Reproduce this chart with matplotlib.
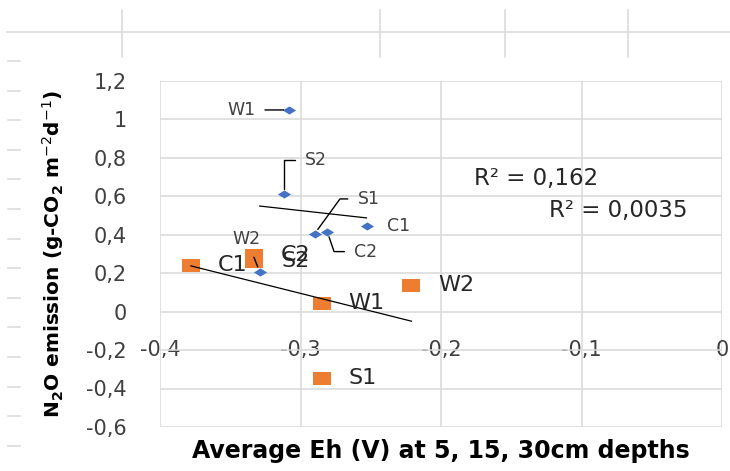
import numpy as np
import matplotlib.pyplot as plt
from matplotlib.lines import Line2D

# diamond series (blue)
blue_names = ['W1', 'S2', 'S1', 'C2', 'C1', 'W2']
blue_eh = [-0.308, -0.312, -0.290, -0.281, -0.253, -0.329]
blue_n2o = [1.047, 0.61, 0.403, 0.415, 0.444, 0.205]

# square series (orange)
orange_names = ['C1', 'C2', 'S2', 'W1', 'W2', 'S1']
orange_eh = [-0.378, -0.333, -0.333, -0.285, -0.221, -0.285]
orange_n2o = [0.239, 0.296, 0.26, 0.044, 0.138, -0.348]

r2_labels = ['R² = 0,162', 'R² = 0,0035']

x_ticks = [-0.4, -0.3, -0.2, -0.1, 0.0]
x_tick_labels = ['-0,4', '-0,3', '-0,2', '-0,1', '0']
y_ticks = [1.2, 1.0, 0.8, 0.6, 0.4, 0.2, 0.0, -0.2, -0.4, -0.6]
y_tick_labels = ['1,2', '1', '0,8', '0,6', '0,4', '0,2', '0', '-0,2', '-0,4', '-0,6']

BLUE = '#4472C4'
ORANGE = '#ED7D31'
GRID = '#d9d9d9'

# label placement for the blue points (offset in pixels, alignment, leader style)
blue_layout = {
    'W1': ((-34, 0), 'right', 'arc3'),
    'S2': ((21, 34), 'left', 'angle,angleA=0,angleB=90,rad=0'),
    'S1': ((43, 35), 'left', 'angle,angleA=0,angleB=54,rad=0'),
    'C2': ((27, -20), 'left', 'angle,angleA=0,angleB=109,rad=0'),
    'C1': ((20, 0), 'left', None),
    'W2': ((-13, 33), 'center', 'arc3'),
}

plt.rcParams['font.family'] = ['DejaVu Sans']
plt.rcParams['mathtext.fontset'] = 'dejavusans'

fig = plt.figure(figsize=(7.3, 4.71), dpi=100)
ax = fig.add_axes([160/730, 1 - 427/471, 562/730, 346.5/471])

# spreadsheet cell lines behind the chart
W, H = 730, 471
def fig_line(x0, y0, x1, y1):
    fig.add_artist(Line2D([x0/W, x1/W], [1 - y0/H, 1 - y1/H], transform=fig.transFigure,
                          color=GRID, lw=1.1))
fig_line(7, 32, 730, 32)
for xv in [122, 380, 505, 628]:
    fig_line(xv, 10, xv, 57)
for yv in np.arange(61, 450, 29.6):
    fig_line(8, yv, 20, yv)

diamond = [(-1, 0), (0, 0.62), (1, 0), (0, -0.62), (-1, 0)]
square = [(-1, -0.72), (1, -0.72), (1, 0.72), (-1, 0.72), (-1, -0.72)]

ax.plot(orange_eh, orange_n2o, linestyle='none', marker=square, markersize=13,
        color=ORANGE, markeredgewidth=0, zorder=3)
ax.plot(blue_eh, blue_n2o, linestyle='none', marker=diamond, markersize=9.5,
        color=BLUE, markeredgewidth=0, zorder=3)

# linear trendlines
for xs, ys in [(blue_eh, blue_n2o), (orange_eh, orange_n2o)]:
    k, b = np.polyfit(xs, ys, 1)
    xx = np.array([min(xs), max(xs)])
    ax.plot(xx, k * xx + b, color='black', lw=0.9, zorder=4)

ax.text(-0.1766, 0.693, r2_labels[0], fontsize=16.5, color='#262626', ha='left', va='center')
ax.text(-0.1234, 0.527, r2_labels[1], fontsize=16.5, color='#262626', ha='left', va='center')

# data labels
for name, x, y in zip(blue_names, blue_eh, blue_n2o):
    off, ha, conn = blue_layout[name]
    props = None
    if conn:
        props = dict(arrowstyle='-', connectionstyle=conn, color='black', lw=1.0,
                     shrinkA=5, shrinkB=4)
    ax.annotate(name, (x, y), xytext=off, textcoords='offset pixels', ha=ha, va='center',
                fontsize=12.5, color='#404040', arrowprops=props, zorder=5)

for name, x, y in zip(orange_names, orange_eh, orange_n2o):
    ax.annotate(name, (x, y), xytext=(27, 0), textcoords='offset pixels', ha='left',
                va='center', fontsize=16, color='#262626', zorder=5)

ax.set_xlim(-0.4, 0)
ax.set_ylim(-0.6, 1.2)
ax.set_xticks(x_ticks, x_tick_labels)
ax.set_yticks(y_ticks, y_tick_labels)
ax.grid(True, color=GRID, lw=1.1)
ax.set_axisbelow(True)
for s in ax.spines.values():
    s.set_visible(False)
ax.spines['bottom'].set_position(('data', -0.2))
ax.tick_params(axis='x', length=0, pad=-7.5, labelsize=15, labelcolor='#404040')
ax.tick_params(axis='y', length=0, pad=24, labelsize=15, labelcolor='#404040')

ax.set_xlabel('Average Eh (V) at 5, 15, 30cm depths', fontsize=17, fontweight='bold')
ax.xaxis.set_label_coords(0.5, -0.035)
ax.set_ylabel(r'N$_\mathbf{2}$O emission (g-CO$_\mathbf{2}$ m$^{-2}$d$^{-1}$)',
              fontsize=14.5, fontweight='bold')
ax.yaxis.set_label_coords(-0.167, 0.5)

fig.savefig('out.png', dpi=100)
